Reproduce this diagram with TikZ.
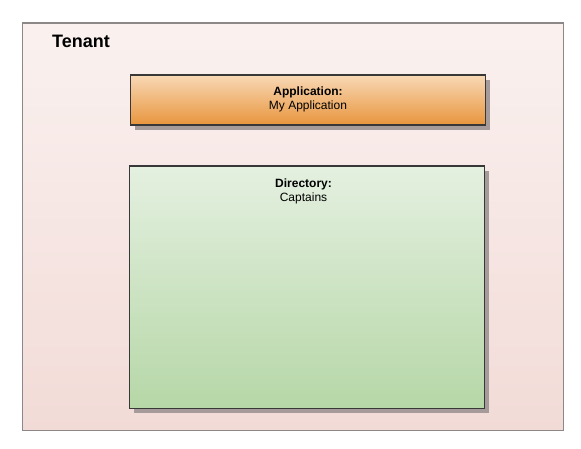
\documentclass[tikz,border=0pt]{standalone}
\usepackage{fontspec}
\setmainfont{Liberation Sans}
\usetikzlibrary{shadows}
\definecolor{tenTop}{HTML}{FAF1EF}
\definecolor{tenBot}{HTML}{F2DBD7}
\definecolor{tenLine}{HTML}{8C8888}
\definecolor{appTop}{HTML}{F8D8B5}
\definecolor{appBot}{HTML}{E8953D}
\definecolor{dirTop}{HTML}{E4F0E0}
\definecolor{dirBot}{HTML}{B6D7A7}
\definecolor{boxLine}{HTML}{383838}
\definecolor{shadowCol}{HTML}{A59B9A}
\begin{document}
\begin{tikzpicture}[x=1pt,y=-1pt,
  tenantbox/.style={draw=tenLine, line width=1.2pt, top color=tenTop, bottom color=tenBot,
    minimum width=541pt, minimum height=407pt, inner sep=0pt, anchor=north west},
  itembox/.style={draw=boxLine, line width=1.2pt, inner sep=0pt, anchor=north west,
    minimum width=355pt,
    drop shadow={shadow xshift=4.5pt, shadow yshift=-4.5pt, fill=shadowCol, opacity=1}},
  titletext/.style={font=\bfseries\fontsize{12}{14}\selectfont, anchor=base, inner sep=0pt},
  bodytext/.style={font=\fontsize{12}{14}\selectfont, anchor=base, inner sep=0pt},
  tenanttext/.style={font=\bfseries\fontsize{18}{21}\selectfont, anchor=base west, inner sep=0pt}]
\useasboundingbox (0,0) rectangle (581,449);
\node[tenantbox] (tenant) at (21.5,22.5) {};
\node[tenanttext] (tenantlabel) at (52,47.5) {Tenant};
\node[itembox, top color=appTop, bottom color=appBot, minimum height=50pt] (app) at (130,74.5) {};
\node[titletext] (apptitle) at (308,95.2) {Application:};
\node[bodytext] (appname) at (308,109.3) {My Application};
\node[itembox, top color=dirTop, bottom color=dirBot, minimum height=242pt] (dir) at (129,165.5) {};
\node[titletext] (dirtitle) at (303.5,188) {Directory:};
\node[bodytext] (dirname) at (303.5,201.5) {Captains};
\end{tikzpicture}
\end{document}
